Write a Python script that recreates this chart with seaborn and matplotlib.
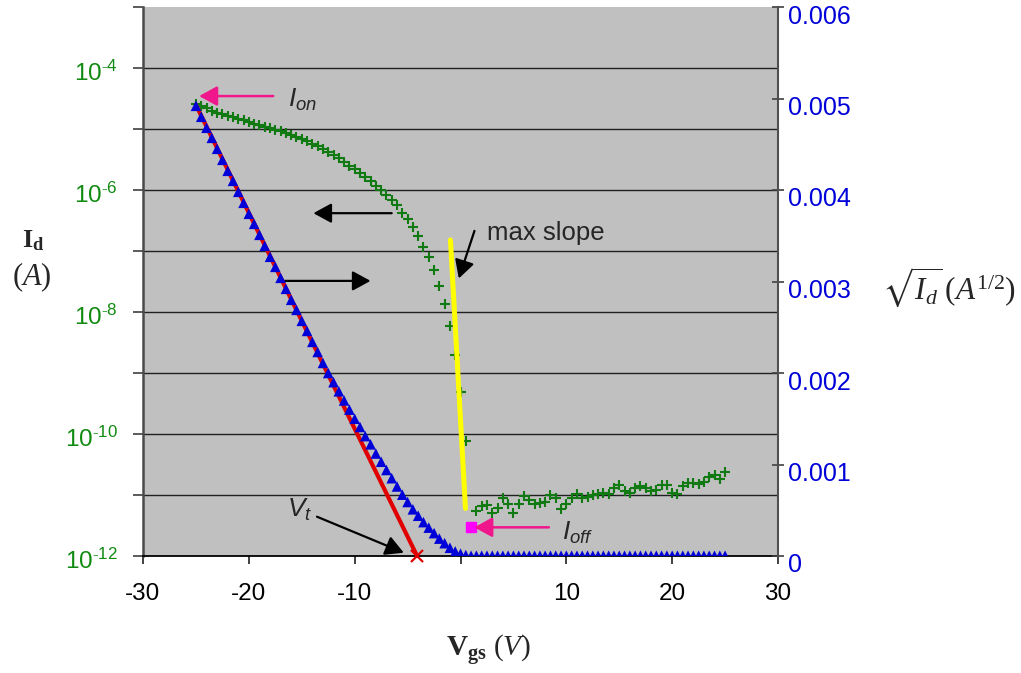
import numpy as np
import pandas as pd
import matplotlib
matplotlib.use('Agg')
import matplotlib.pyplot as plt
from matplotlib.ticker import NullLocator
from matplotlib.transforms import ScaledTranslation
import seaborn as sns

# gate voltage sweep (V)
vgs = [-25.0, -24.5, -24.0, -23.5, -23.0, -22.5, -22.0, -21.5, -21.0, -20.5,
       -20.0, -19.5, -19.0, -18.5, -18.0, -17.5, -17.0, -16.5, -16.0, -15.5,
       -15.0, -14.5, -14.0, -13.5, -13.0, -12.5, -12.0, -11.5, -11.0, -10.5,
       -10.0, -9.5, -9.0, -8.5, -8.0, -7.5, -7.0, -6.5, -6.0, -5.5,
       -5.0, -4.5, -4.0, -3.5, -3.0, -2.5, -2.0, -1.5, -1.0, -0.5,
       0.0, 0.5, 1.0, 1.5, 2.0, 2.5, 3.0, 3.5, 4.0, 4.5,
       5.0, 5.5, 6.0, 6.5, 7.0, 7.5, 8.0, 8.5, 9.0, 9.5,
       10.0, 10.5, 11.0, 11.5, 12.0, 12.5, 13.0, 13.5, 14.0, 14.5,
       15.0, 15.5, 16.0, 16.5, 17.0, 17.5, 18.0, 18.5, 19.0, 19.5,
       20.0, 20.5, 21.0, 21.5, 22.0, 22.5, 23.0, 23.5, 24.0, 24.5,
       25.0]

# log10 of drain current (A)
id_log10 = [-4.59, -4.63, -4.66, -4.70, -4.73, -4.76, -4.79, -4.81, -4.84, -4.86,
            -4.88, -4.91, -4.93, -4.96, -4.98, -5.01, -5.04, -5.07, -5.10, -5.13,
            -5.16, -5.20, -5.24, -5.28, -5.33, -5.38, -5.43, -5.48, -5.54, -5.60,
            -5.66, -5.72, -5.79, -5.86, -5.93, -6.00, -6.08, -6.16, -6.25, -6.37,
            -6.48, -6.60, -6.75, -6.93, -7.10, -7.31, -7.57, -7.87, -8.23, -8.70,
            -9.31, -10.11, -11.52, -11.27, -11.18, -11.16, -11.30, -11.22, -11.05, -11.14,
            -11.29, -11.14, -11.02, -11.09, -11.14, -11.13, -11.11, -11.00, -11.05, -11.23,
            -11.14, -11.05, -10.98, -11.05, -11.03, -11.00, -10.98, -10.97, -10.98, -10.89,
            -10.84, -10.93, -10.96, -10.89, -10.86, -10.89, -10.93, -10.91, -10.84, -10.84,
            -10.96, -10.98, -10.86, -10.80, -10.80, -10.82, -10.78, -10.70, -10.67, -10.74,
            -10.63]

# sqrt(Id) in units of 1e-3 A^1/2
sqrt_id_milli = [4.92, 4.80, 4.68, 4.57, 4.45, 4.33, 4.21, 4.10, 3.98, 3.86,
                 3.74, 3.63, 3.51, 3.39, 3.27, 3.16, 3.04, 2.92, 2.80, 2.69,
                 2.57, 2.46, 2.34, 2.23, 2.11, 2.00, 1.90, 1.80, 1.70, 1.60,
                 1.50, 1.41, 1.31, 1.22, 1.12, 1.03, 0.94, 0.85, 0.76, 0.67,
                 0.59, 0.51, 0.44, 0.37, 0.31, 0.25, 0.19, 0.14, 0.09, 0.05,
                 0.025, 0.010, 0.002, 0.003, 0.003, 0.003, 0.003, 0.003, 0.003, 0.003,
                 0.003, 0.003, 0.003, 0.003, 0.003, 0.003, 0.003, 0.003, 0.003, 0.003,
                 0.003, 0.003, 0.003, 0.003, 0.003, 0.003, 0.003, 0.003, 0.003, 0.003,
                 0.003, 0.003, 0.003, 0.003, 0.003, 0.003, 0.003, 0.003, 0.003, 0.003,
                 0.003, 0.003, 0.003, 0.003, 0.003, 0.003, 0.003, 0.003, 0.003, 0.003,
                 0.003]

# linear fit of sqrt(Id) -> threshold voltage
fit_vgs = [-25.0, -4.1]
fit_sqrt_milli = [4.93, 0.0]

# max subthreshold slope line (log axis)
slope_vgs = [-0.95, 0.47]
slope_log10 = [-6.82, -11.22]

x_ticks = [-30, -20, -10, 0, 10, 20, 30]
x_tick_labels = ['-30', '-20', '-10', '', '10', '20', '30']
left_exps = [-12, -11, -10, -9, -8, -7, -6, -5, -4, -3]
right_ticks_milli = [0, 1, 2, 3, 4, 5, 6]
right_tick_labels = ['0', '0.001', '0.002', '0.003', '0.004', '0.005', '0.006']

GREEN = '#127a12'
GREEN_TXT = '#108a10'
BLUE = '#0000d8'
PINK = '#f0168c'

sns.set_theme(style='ticks')
plt.rcParams['font.family'] = ['Liberation Sans', 'DejaVu Sans']
plt.rcParams['axes.unicode_minus'] = False
plt.rcParams['mathtext.fontset'] = 'custom'
plt.rcParams['mathtext.rm'] = 'Liberation Serif'
plt.rcParams['mathtext.it'] = 'Liberation Serif:italic'
plt.rcParams['mathtext.bf'] = 'Liberation Serif:bold'
plt.rcParams['mathtext.sf'] = 'Liberation Sans:italic'
plt.rcParams['mathtext.fallback'] = 'stix'

df = pd.DataFrame({
    'vgs': vgs,
    'id': 10.0 ** np.array(id_log10),
    'sqrt_id': np.array(sqrt_id_milli) * 1e-3,
})
fit_df = pd.DataFrame({'vgs': fit_vgs, 'sqrt_id': np.array(fit_sqrt_milli) * 1e-3})
slope_df = pd.DataFrame({'vgs': slope_vgs, 'id': 10.0 ** np.array(slope_log10)})

W, H = 1021, 673
fig = plt.figure(figsize=(W / 100, H / 100), dpi=100)
fig.patch.set_facecolor('white')
ax = fig.add_axes([143 / W, 1 - 556 / H, (778 - 143) / W, (556 - 7) / H])
ax.set_facecolor('#c0c0c0')

# left axis: Id on log scale
ax.set_yscale('log')
ax.set_ylim(1e-12, 1e-3)
ax.set_xlim(-30, 30)
sns.scatterplot(data=df, x='vgs', y='id', ax=ax, marker='+', s=45,
                color=GREEN, linewidth=1.5, zorder=3, legend=False)
sns.lineplot(data=slope_df, x='vgs', y='id', ax=ax, color='#ffff00',
             linewidth=3.6, zorder=4, legend=False)
ioff = int(np.argmin(id_log10))
ax.plot(vgs[ioff], 10.0 ** id_log10[ioff], marker='s', ms=6.5, color='#ff00ff',
        mec='#ff00ff', zorder=5)

ax.set_yticks([10.0 ** e for e in left_exps])
ax.set_yticklabels([r'$\mathdefault{10^{\text{-}%d}}$' % (-e) if (e % 2 == 0 and e <= -4) else ''
                    for e in left_exps])
ax.yaxis.set_minor_locator(NullLocator())
ax.set_xticks(x_ticks)
ax.set_xticklabels(x_tick_labels)
ax.tick_params(axis='y', direction='out', length=7, width=1.2, color='#404040',
               labelsize=17.5, labelcolor=GREEN_TXT, pad=11)
ax.tick_params(axis='x', direction='out', length=5.5, width=1.2, color='#202020',
               labelsize=17.5, labelcolor='black', pad=14)
for lab in ax.get_yticklabels():
    lab.set_transform(lab.get_transform() + ScaledTranslation(0, -0.03, fig.dpi_scale_trans))
ax.grid(axis='y', which='major', color='#202020', linewidth=1.0)
ax.grid(axis='x', visible=False)
gl = ax.yaxis.get_gridlines()
gl[0].set_visible(False)
gl[-1].set_visible(False)
ax.set_xlabel('')
ax.set_ylabel('')
ax.spines['top'].set_visible(False)
ax.spines['right'].set_visible(False)
ax.spines['left'].set_color('#4a4a4a')
ax.spines['left'].set_linewidth(1.8)
ax.spines['bottom'].set_color('black')
ax.spines['bottom'].set_linewidth(1.3)

# right axis: sqrt(Id) linear
ax2 = ax.twinx()
ax2.set_ylim(0, 0.006)
sns.lineplot(data=fit_df, x='vgs', y='sqrt_id', ax=ax2, color='#e00000',
             linewidth=3.0, zorder=2, legend=False)
sns.scatterplot(data=df, x='vgs', y='sqrt_id', ax=ax2, marker='^', s=58,
                color=BLUE, edgecolor='none', zorder=3, legend=False)
ax2.plot(fit_vgs[-1], fit_sqrt_milli[-1] * 1e-3, marker='x', ms=8, mew=1.6,
         color='#e00000', zorder=4, clip_on=False)
ax2.set_yticks(np.array(right_ticks_milli) * 1e-3)
ax2.set_yticklabels(right_tick_labels)
ax2.tick_params(axis='y', direction='inout', length=9, width=1.2, color='#404040',
                labelsize=18, labelcolor=BLUE, pad=3)
for lab in ax2.get_yticklabels():
    lab.set_transform(lab.get_transform() + ScaledTranslation(0, -0.07, fig.dpi_scale_trans))
ax2.set_ylabel('')
ax2.set_xlabel('')
ax2.grid(False)
for s in ['top', 'left', 'bottom']:
    ax2.spines[s].set_visible(False)
ax2.spines['right'].set_color('#505050')
ax2.spines['right'].set_linewidth(1.5)

# annotations
def arrow(a, xy, xytext, color, lw=1.6):
    a.annotate('', xy=xy, xytext=xytext,
               arrowprops=dict(arrowstyle='-|>,head_length=0.55,head_width=0.3',
                               color=color, lw=lw, shrinkA=0, shrinkB=0,
                               mutation_scale=20), zorder=6)

arrow(ax, (-24.7, 10 ** -4.46), (-17.7, 10 ** -4.46), PINK, lw=1.8)
ax.text(-16.3, 10 ** -4.52, r'$\mathsf{I_{on}}$', fontsize=19, ha='left', va='center')

arrow(ax, (1.3, 10 ** -11.53), (8.35, 10 ** -11.53), PINK, lw=1.8)
ax.text(9.6, 10 ** -11.62, r'$\mathsf{I_{off}}$', fontsize=19, ha='left', va='center')

arrow(ax, (-13.9, 10 ** -6.38), (-6.5, 10 ** -6.38), 'black')
arrow(ax, (-8.5, 10 ** -7.49), (-16.6, 10 ** -7.49), 'black')

arrow(ax, (-0.16, 10 ** -7.45), (1.32, 10 ** -6.67), 'black')
ax.text(2.46, 10 ** -6.70, 'max slope', fontsize=18.5, ha='left', va='center')

arrow(ax, (-5.36, 10 ** -11.946), (-13.56, 10 ** -11.356), 'black')
ax.text(-14.0, 10 ** -11.25, r'$\mathsf{V_t}$', fontsize=19, ha='right', va='center')

# axis titles
fig.text(33 / W, 1 - 241 / H, r'$\mathbf{I_d}$', fontsize=19, ha='center', va='center')
fig.text(31.5 / W, 1 - 277 / H, r'$(A)$', fontsize=22, ha='center', va='center')
fig.text(489 / W, 1 - 651 / H, r'$\mathbf{V_{gs}}\ (V)$', fontsize=21,
         ha='center', va='center')
fig.text(882 / W, 1 - 287 / H, r'$\sqrt{I_d}\,(A^{1/2})$', fontsize=22.5,
         ha='left', va='center')

fig.savefig('out.png', dpi=100, facecolor='white')
